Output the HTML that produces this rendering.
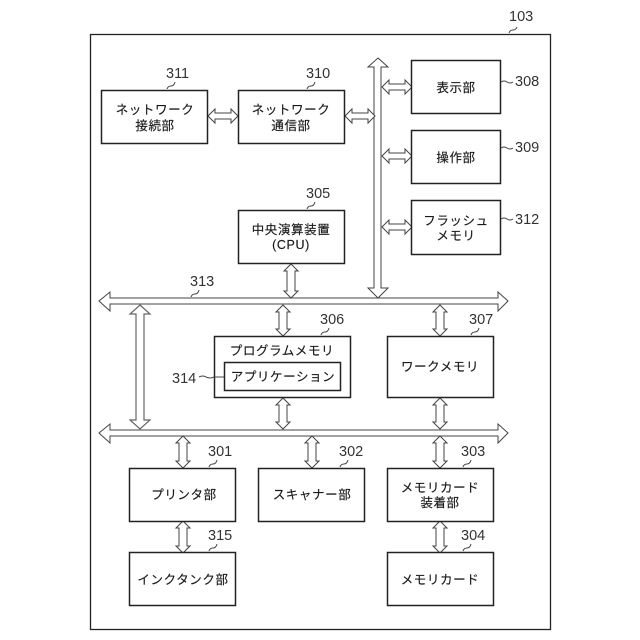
<!DOCTYPE html>
<html><head><meta charset="utf-8"><style>
html,body{margin:0;padding:0;background:#fff}
svg{display:block}
text{font-family:"Liberation Sans","Noto Sans CJK JP",sans-serif;fill:#1a1a1a}
.j{font-size:12.5px;text-anchor:middle;letter-spacing:.6px;stroke:#1a1a1a;stroke-width:.15px}
.n{font-size:14.5px;fill:#333}
.b{fill:#fff;stroke:#222;stroke-width:1.5}
.a{fill:#fff;stroke:#444;stroke-width:1}
.l{fill:none;stroke:#444;stroke-width:1}
</style></head><body>
<svg width="640" height="640" viewBox="0 0 640 640" xmlns="http://www.w3.org/2000/svg">
<rect x="90.5" y="34.5" width="460" height="595" class="b" style="stroke-width:1.3"/>

<!-- buses -->
<polygon class="a" points="99,301 110,292 110,298 498,298 498,292 508,301 498,311 498,304 110,304 110,311"/>
<polygon class="a" points="99,433 110,424 110,430 498,430 498,424 508,433 498,443 498,436 110,436 110,443"/>
<polygon class="a" points="378,58 388,67 381,67 381,288 388,288 378,298 368,288 374,288 374,67 368,67"/>
<polygon class="a" style="stroke-width:1.2;stroke:#666" points="140,305 150,314 144,314 144,420 150,420 140,429 130,420 136,420 136,314 130,314"/>

<!-- small horizontal -->
<polygon class="a" points="208,116 215,109 215,113 231,113 231,109 238,116 231,123 231,119 215,119 215,123"/>
<polygon class="a" points="345,116 352,109 352,113 368,113 368,109 375,116 368,123 368,119 352,119 352,123"/>
<polygon class="a" points="382,87 389,80 389,84 405,84 405,80 412,87 405,94 405,90 389,90 389,94"/>
<polygon class="a" points="382,156 389,149 389,153 405,153 405,149 412,156 405,163 405,159 389,159 389,163"/>
<polygon class="a" points="382,227 389,220 389,224 405,224 405,220 412,227 405,234 405,230 389,230 389,234"/>

<!-- small vertical -->
<polygon class="a" points="291,264 298,271 295,271 295,291 298,291 291,298 284,291 287,291 287,271 284,271"/>
<polygon class="a" points="283,305 290,312 287,312 287,329 290,329 283,336 276,329 279,329 279,312 276,312"/>
<polygon class="a" points="440,305 447,312 444,312 444,329 447,329 440,336 433,329 436,329 436,312 433,312"/>
<polygon class="a" points="283,398 290,405 287,405 287,422 290,422 283,429 276,422 279,422 279,405 276,405"/>
<polygon class="a" points="440,398 447,405 444,405 444,422 447,422 440,429 433,422 436,422 436,405 433,405"/>
<polygon class="a" points="183,436 190,443 187,443 187,461 190,461 183,468 176,461 179,461 179,443 176,443"/>
<polygon class="a" points="312,436 319,443 316,443 316,461 319,461 312,468 305,461 308,461 308,443 305,443"/>
<polygon class="a" points="440,436 447,443 444,443 444,461 447,461 440,468 433,461 436,461 436,443 433,443"/>
<polygon class="a" points="183,521 190,528 187,528 187,546 190,546 183,553 176,546 179,546 179,528 176,528"/>
<polygon class="a" points="440,521 447,528 444,528 444,546 447,546 440,553 433,546 436,546 436,528 433,528"/>

<!-- boxes -->
<rect class="b" x="101.5" y="90.5" width="106" height="53"/>
<rect class="b" x="238.5" y="90.5" width="106" height="53"/>
<rect class="b" x="411.5" y="60.5" width="89" height="53"/>
<rect class="b" x="411.5" y="130.5" width="89" height="53"/>
<rect class="b" x="411.5" y="200.5" width="89" height="54"/>
<rect class="b" x="238.5" y="210.5" width="106" height="53"/>
<rect class="b" x="214.5" y="336.5" width="136" height="61"/>
<rect class="b" x="224.5" y="362.5" width="116" height="28"/>
<rect class="b" x="387.5" y="336.5" width="106" height="61"/>
<rect class="b" x="129.5" y="468.5" width="106" height="53"/>
<rect class="b" x="258.5" y="468.5" width="106" height="53"/>
<rect class="b" x="387.5" y="468.5" width="106" height="53"/>
<rect class="b" x="129.5" y="552.5" width="106" height="53"/>
<rect class="b" x="387.5" y="552.5" width="106" height="53"/>

<!-- box labels -->
<text class="j" x="155" y="114">ネットワーク</text>
<text class="j" x="155" y="130">接続部</text>
<text class="j" x="291" y="114">ネットワーク</text>
<text class="j" x="291" y="130">通信部</text>
<text class="j" x="456" y="92">表示部</text>
<text class="j" x="456" y="162">操作部</text>
<text class="j" x="456" y="225">フラッシュ</text>
<text class="j" x="456" y="240">メモリ</text>
<text class="j" x="291" y="234">中央演算装置</text>
<text class="j" x="291" y="249">(CPU)</text>
<text class="j" x="282" y="355">プログラムメモリ</text>
<text class="j" x="283" y="381">アプリケーション</text>
<text class="j" x="440" y="371">ワークメモリ</text>
<text class="j" x="184" y="499">プリンタ部</text>
<text class="j" x="312" y="499">スキャナー部</text>
<text class="j" x="440" y="492">メモリカード</text>
<text class="j" x="440" y="507">装着部</text>
<text class="j" x="183" y="584">インクタンク部</text>
<text class="j" x="440" y="584">メモリカード</text>

<!-- reference numerals -->
<text class="n" x="509" y="21">103</text>
<text class="n" x="166" y="78">311</text>
<text class="n" x="306" y="78">310</text>
<text class="n" x="515" y="86">308</text>
<text class="n" x="515" y="152">309</text>
<text class="n" x="515" y="224">312</text>
<text class="n" x="306" y="198">305</text>
<text class="n" x="190" y="286">313</text>
<text class="n" x="320" y="324">306</text>
<text class="n" x="469" y="324">307</text>
<text class="n" x="172" y="383">314</text>
<text class="n" x="208" y="456">301</text>
<text class="n" x="339" y="456">302</text>
<text class="n" x="461" y="456">303</text>
<text class="n" x="208" y="540">315</text>
<text class="n" x="461" y="540">304</text>

<!-- leader squiggles -->
<path class="l" d="M509,33 q1,-3 4,-3 q3,0 4,-3"/>
<path class="l" d="M167,89 q1,-3 4,-3 q3,0 4,-4"/>
<path class="l" d="M307,89 q1,-3 4,-3 q3,0 4,-4"/>
<path class="l" d="M501,82 q3,-2 6,0 q3,2 6,0"/>
<path class="l" d="M501,148 q3,-2 6,0 q3,2 6,0"/>
<path class="l" d="M501,219 q3,-2 6,0 q3,2 6,0"/>
<path class="l" d="M307,209 q1,-3 4,-3 q3,0 4,-4"/>
<path class="l" d="M191,297 q1,-3 4,-3 q3,0 4,-4"/>
<path class="l" d="M321,335 q1,-3 4,-3 q3,0 4,-4"/>
<path class="l" d="M471,335 q1,-3 4,-3 q3,0 4,-4"/>
<path class="l" d="M199,377 q4,-2 7,0 q4,2 8,0 l10,0"/>
<path class="l" d="M209,467 q1,-3 4,-3 q3,0 4,-4"/>
<path class="l" d="M340,467 q1,-3 4,-3 q3,0 4,-4"/>
<path class="l" d="M463,467 q1,-3 4,-3 q3,0 4,-4"/>
<path class="l" d="M209,551 q1,-3 4,-3 q3,0 4,-4"/>
<path class="l" d="M463,551 q1,-3 4,-3 q3,0 4,-4"/>
</svg>
</body></html>
